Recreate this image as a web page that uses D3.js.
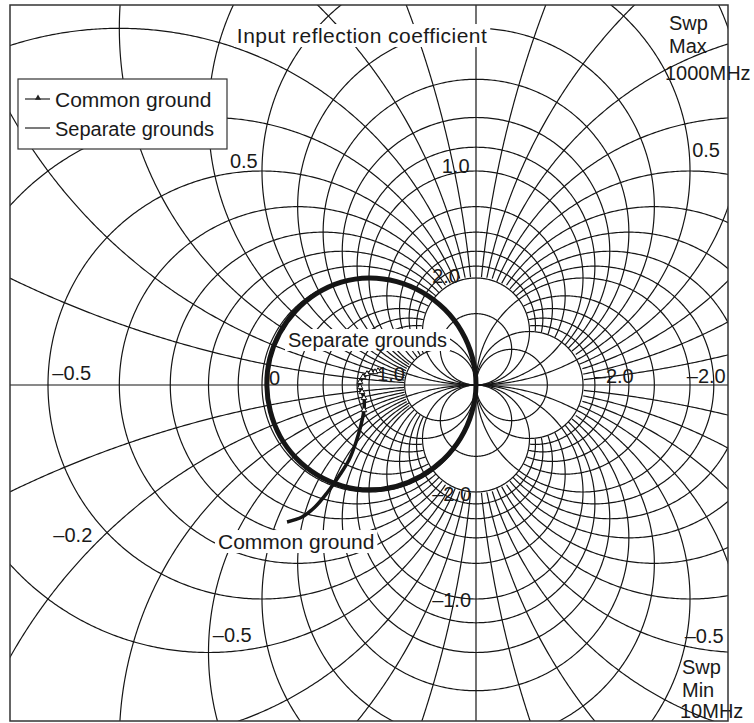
<!DOCTYPE html>
<html>
<head>
<meta charset="utf-8">
<script src="https://cdn.jsdelivr.net/npm/d3@7"></script>
<style>
body { margin: 0; background: #fff; }
text { font-family: "Liberation Sans", Arial, sans-serif; fill: #1a1a1a; }
</style>
</head>
<body>
<script>
// ---- grid values (normalised resistance / reactance) ----
var rFine = [0.2, 0.4, 0.6, 0.8,
             -0.1, -0.2, -0.3, -0.4, -0.5, -0.6, -0.7, -0.8, -0.9,
             -1.1, -1.2, -1.3, -1.4, -1.5, -1.6, -1.7, -1.8, -1.9,
             -2.2, -2.4, -2.6, -2.8];
var rMain = [0, 1, 2, -2, -3, -4];
var xFine = [0.1, 0.2, 0.3, 0.4, 0.6, 0.7, 0.8, 0.9, 1.2, 1.4, 1.6, 1.8,
             -0.1, -0.2, -0.3, -0.4, -0.6, -0.7, -0.8, -0.9, -1.2, -1.4, -1.6, -1.8];
var xMain = [0.5, 1, 2, 3, -0.5, -1, -2, -3];

// ---- grid labels, anchored in the reflection-coefficient plane ----
var tickText = ["0.5", "0.5", "1.0", "2.0", "\u20130.5", "0", "1.0", "\u20132.0", "\u20132.0",
                "\u20130.2", "\u20130.5", "\u20132.0", "\u20131.0", "\u20130.5"];
var tickRe = [-1.30, 3.02, 0.68, 0.59, -2.96, -0.935, 0.075, 2.11, 2.97, -2.95, -1.46, 0.59, 0.59, 2.95];
var tickIm = [2.03, 2.13, 1.98, 0.95, 0.047, 0, 0.037, 0.019, 0.019, -1.467, -2.40, -1.084, -2.075, -2.41];

// ---- measured input reflection coefficient (10 MHz - 1000 MHz) ----
var sepRe = [1.00, 0.961, 0.857, 0.696, 0.490, 0.254, 0.0, -0.252, -0.485, -0.682, -0.831, -0.922,
             -0.955, -0.927, -0.836, -0.689, -0.493, -0.258, 0.0, 0.259, 0.50, 0.707, 0.866, 0.966];
var sepIm = [0.00, -0.258, -0.495, -0.696, -0.849, -0.947, -0.98, -0.942, -0.840, -0.682, -0.480, -0.247,
             0.0, 0.248, 0.483, 0.689, 0.853, 0.961, 1.0, 0.966, 0.866, 0.707, 0.50, 0.259];

var comRe = [0.084, 0.056, 0.019, -0.019, -0.056, -0.084, -0.084, -0.065, -0.047, -0.047,
             -0.075, -0.121, -0.187, -0.280, -0.393, -0.505, -0.626, -0.766];
var comIm = [0.131, 0.121, 0.121, 0.103, 0.075, 0.028, -0.019, -0.065, -0.121, -0.234,
             -0.374, -0.533, -0.701, -0.850, -1.009, -1.140, -1.234, -1.280];

var W = 754, H = 723;
var frame = {x0: 10, y0: 5, x1: 728, y1: 721};

var xS = d3.scaleLinear().domain([-1, 1]).range([262, 476]);
var yS = d3.scaleLinear().domain([-1, 1]).range([492, 278]);
var unit = xS(1) - xS(0);

var svg = d3.select("body").append("svg")
    .attr("width", W).attr("height", H);

svg.append("clipPath").attr("id", "fr")
  .append("rect")
    .attr("x", frame.x0).attr("y", frame.y0)
    .attr("width", frame.x1 - frame.x0).attr("height", frame.y1 - frame.y0);

var grid = svg.append("g").attr("clip-path", "url(#fr)")
    .attr("fill", "none").attr("stroke", "#151515").attr("stroke-width", 1.2);

var line = d3.line()
    .defined(function(p) { return p.ok; })
    .x(function(p) { return xS(p.re); })
    .y(function(p) { return yS(p.im); });

// sample a circle in the gamma plane starting at the point gamma = 1
function circlePts(cRe, cIm, rho, t0, keep) {
  var n = Math.max(400, Math.ceil(rho * unit * Math.PI));
  return d3.range(n + 1).map(function(i) {
    var t = t0 + i / n * 2 * Math.PI;
    var re = cRe + rho * Math.cos(t), im = cIm + rho * Math.sin(t);
    var d = (1 - re) * (1 - re) + im * im;
    var p = {re: re, im: im};
    if (d < 1e-9) { p.r = Infinity; p.x = Infinity; }
    else { p.r = (1 - re * re - im * im) / d; p.x = 2 * im / d; }
    p.ok = keep(p);
    return p;
  });
}

function rPts(r, keep) {
  return circlePts(r / (1 + r), 0, 1 / Math.abs(1 + r), r > -1 ? 0 : Math.PI, keep);
}
function xPts(x, keep) {
  return circlePts(1, 1 / x, 1 / Math.abs(x), x > 0 ? -Math.PI / 2 : Math.PI / 2, keep);
}

var all = function(p) { return true; };
var rCut = function(p) { return Math.abs(p.x) <= 2.0001; };
var xCut = function(p) { return p.r >= -3.0001 && p.r <= 2.0001; };

rFine.forEach(function(r) { grid.append("path").attr("d", line(rPts(r, rCut))); });
rMain.forEach(function(r) { grid.append("path").attr("d", line(rPts(r, all))); });
xFine.forEach(function(x) { grid.append("path").attr("d", line(xPts(x, xCut))); });
xMain.forEach(function(x) { grid.append("path").attr("d", line(xPts(x, all))); });

// real axis (x = 0) and the r = -1 line
grid.append("line")
    .attr("x1", frame.x0).attr("x2", frame.x1)
    .attr("y1", yS(0)).attr("y2", yS(0));
grid.append("line")
    .attr("x1", xS(1)).attr("x2", xS(1))
    .attr("y1", frame.y0).attr("y2", frame.y1);

// ---- grid labels ----
var ticks = svg.append("g").attr("font-size", 20);
tickText.forEach(function(t, i) {
  ticks.append("text")
      .attr("x", xS(tickRe[i])).attr("y", yS(tickIm[i]))
      .text(t);
});

// ---- traces ----
var trace = d3.line()
    .x(function(d) { return xS(d[0]); })
    .y(function(d) { return yS(d[1]); });

var sep = sepRe.map(function(v, i) { return [v, sepIm[i]]; });
svg.append("path")
    .attr("d", trace.curve(d3.curveCardinalClosed)(sep))
    .attr("fill", "none").attr("stroke", "#151515").attr("stroke-width", 5);

var com = comRe.map(function(v, i) { return [v, comIm[i]]; });
svg.append("path")
    .attr("d", trace.curve(d3.curveCatmullRom)(com))
    .attr("fill", "none").attr("stroke", "#151515").attr("stroke-width", 3.5);

var tri = d3.symbol().type(d3.symbolTriangle).size(14);
svg.append("g").selectAll("path")
  .data(com.slice(0, 10))
  .join("path")
    .attr("d", tri)
    .attr("transform", function(d) { return "translate(" + xS(d[0]) + "," + yS(d[1]) + ")"; })
    .attr("fill", "#fff").attr("stroke", "#151515").attr("stroke-width", 1);

// ---- text with white backing ----
function boxedText(x, y, s, size, anchor, spacing) {
  var g = svg.append("g");
  var r = g.append("rect").attr("fill", "#fff");
  var t = g.append("text").attr("x", x).attr("y", y)
      .attr("font-size", size).attr("letter-spacing", spacing || 0)
      .attr("text-anchor", anchor || "start").text(s);
  var b = t.node().getBBox();
  r.attr("x", b.x - 3).attr("y", b.y).attr("width", b.width + 6).attr("height", b.height);
}

boxedText(xS(-0.065), yS(3.196), "Input reflection coefficient", 21, "middle", 0.45);
boxedText(xS(-0.757), yS(0.355), "Separate grounds", 20);
boxedText(xS(-1.411), yS(-1.533), "Common ground", 21);

// ---- sweep notes ----
var swp = svg.append("g").attr("font-size", 20);
[["Swp", 669, 30], ["Max", 669, 53], ["1000MHz", 665, 80],
 ["Swp", 682, 674], ["Min", 682, 697], ["10MHz", 680, 718]].forEach(function(d) {
  swp.append("text").attr("x", d[1]).attr("y", d[2]).text(d[0]);
});

// ---- legend ----
var lg = svg.append("g");
lg.append("rect").attr("x", 18).attr("y", 79).attr("width", 209).attr("height", 70)
    .attr("fill", "#fff").attr("stroke", "#333").attr("stroke-width", 1.2);
lg.append("line").attr("x1", 25).attr("x2", 50).attr("y1", 99).attr("y2", 99)
    .attr("stroke", "#222").attr("stroke-width", 1.2);
lg.append("path").attr("d", d3.symbol().type(d3.symbolTriangle).size(16))
    .attr("transform", "translate(38,98)").attr("fill", "#222");
lg.append("line").attr("x1", 25).attr("x2", 50).attr("y1", 128).attr("y2", 128)
    .attr("stroke", "#222").attr("stroke-width", 1.2);
lg.append("text").attr("x", 55).attr("y", 107).attr("font-size", 21).text("Common ground");
lg.append("text").attr("x", 55).attr("y", 136).attr("font-size", 20).text("Separate grounds");

// ---- frame ----
svg.append("rect")
    .attr("x", frame.x0).attr("y", frame.y0)
    .attr("width", frame.x1 - frame.x0).attr("height", frame.y1 - frame.y0)
    .attr("fill", "none").attr("stroke", "#333").attr("stroke-width", 1.5);
</script>
</body>
</html>
